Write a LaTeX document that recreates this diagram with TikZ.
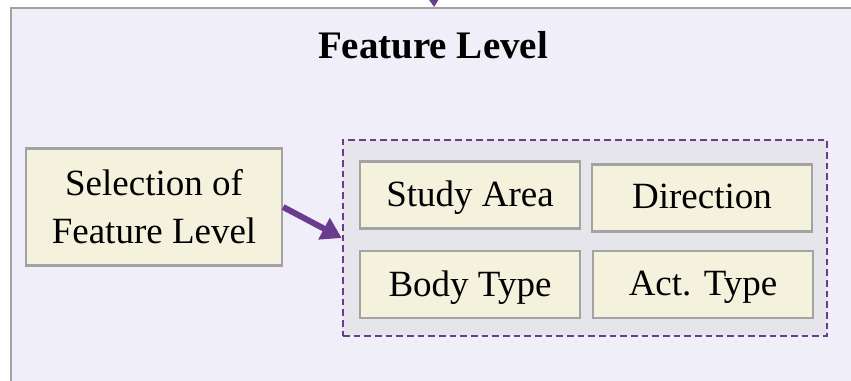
\documentclass[tikz,border=0pt]{standalone}
\usepackage{fontspec}
\setmainfont{Liberation Serif}
\usetikzlibrary{positioning, arrows.meta}
\definecolor{panelfill}{HTML}{F0EEF8}
\definecolor{boxfill}{HTML}{F4F2DC}
\definecolor{groupfill}{HTML}{E6E5EC}
\definecolor{edgegray}{HTML}{A3A3A3}
\definecolor{flowpurple}{HTML}{6A3C8E}
\tikzstyle{panel} = [
    rectangle, draw=edgegray, line width=0.7pt, fill=panelfill,
    minimum width=253.8pt, minimum height=114.9pt % runs past the page edge
]
\tikzstyle{featbox} = [
    rectangle, draw=edgegray, line width=0.7pt, fill=boxfill,
    minimum width=66pt, minimum height=20.1pt,
    font=\fontsize{11.1pt}{14.4pt}\selectfont, align=center
]
\tikzstyle{flow} = [
    -{Triangle[length=6pt, width=7pt]}, flowpurple, line width=1.8pt
]

\begin{document}
\begin{tikzpicture}[x=0.3pt, y=-0.3pt]
        \useasboundingbox (0,0) rectangle (851,380);
        \clip (0,0) rectangle (851,380);
        % Outer panel
        \node[panel, anchor=north west] (panel) at (10,7) {};
        \node[font=\fontsize{11.7pt}{14pt}\selectfont\bfseries] (title) at (433,45) {Feature Level};
        \coordinate (feed) at (433,-20);
        \draw[flow, line width=1.2pt, -{Triangle[length=4pt, width=5pt]}] (feed) -- (panel.north);

        % Selection box
        \node[featbox, minimum width=76.8pt, minimum height=35.1pt] (select) at (154,207) {Selection of\\Feature Level};

        % Dashed group of features
        \node[rectangle, draw=flowpurple, dash pattern=on 2pt off 1.2pt, line width=0.8pt, fill=groupfill,
              minimum width=145.2pt, minimum height=58.8pt] (group) at (585,238) {};
        \node[featbox, text depth=0.8pt] (area) at (470,195) {Study Area};
        \node[featbox, text depth=0.8pt] (dir) at (702,198) {Direction};
        \node[featbox, text depth=0.8pt] (body) at (470,284.5) {Body Type};
        \node[featbox, text depth=0.8pt] (act) at (703,284.5) {Act. Type};

        % Selection feeds the group
        \draw[flow] (select.east) -- (group.west);
    \end{tikzpicture}
\end{document}
